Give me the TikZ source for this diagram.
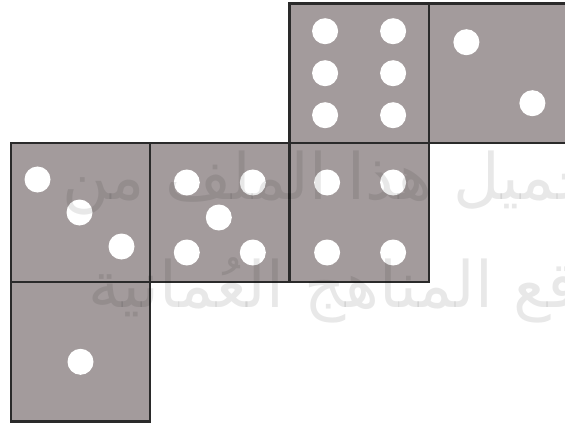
\documentclass[tikz,border=0pt]{standalone}
\usepackage{fontspec}
\usetikzlibrary{positioning, calc}
\newfontfamily\arabicfont[Script=Arabic]{DejaVu Sans}
\TeXXeTstate=1
\definecolor{dieface}{HTML}{A39B9C}
\definecolor{dieedge}{HTML}{2A2A2A}

\begin{document}
\begin{tikzpicture}[
    x=1pt, y=-1pt,
    face/.style={rectangle, draw=dieedge, fill=dieface, line width=2.4pt, minimum size=139.3pt, inner sep=0pt, outer sep=0pt},
    pip/.style={fill=white},
    watermark/.style={black, opacity=0.09, inner sep=0pt, font=\fontsize{64}{64}\arabicfont}
]
\useasboundingbox (0,0) rectangle (565,425);

% Faces of the net
\node (three) [face] at (80.5,212.5) {};
\node (five) [face, right=0pt of three] {};
\node (four) [face, right=0pt of five] {};
\node (six) [face, above=0pt of four] {};
\node (two) [face, right=0pt of six] {};
\node (one) [face, below=0pt of three] {};

% Pips
\foreach \dx/\dy in {-34/-42, 34/-42, -34/0, 34/0, -34/42, 34/42}
    \fill[pip] ($(six)+(\dx,\dy)$) circle (13);
\foreach \dx/\dy in {-32/-31, 34/30}
    \fill[pip] ($(two)+(\dx,\dy)$) circle (13);
\foreach \dx/\dy in {-43/-33, -1/0, 41/34}
    \fill[pip] ($(three)+(\dx,\dy)$) circle (13);
\foreach \dx/\dy in {-33/-30, 33/-30, -1/5, -33/40, 33/40}
    \fill[pip] ($(five)+(\dx,\dy)$) circle (13);
\foreach \dx/\dy in {-32/-30, 34/-30, -32/40, 34/40}
    \fill[pip] ($(four)+(\dx,\dy)$) circle (13);
\fill[pip] ($(one)+(0,10)$) circle (13);

% Watermark
\begin{scope}
\clip (0,0) rectangle (565,425);
\node (wmtop) [watermark, anchor=base west] at (62,200) {\beginR تحميل هذا الملف من\endR};
\node (wmbottom) [watermark, anchor=base west] at (88,307) {\beginR موقع المناهج العُمانية\endR};
\end{scope}

\end{tikzpicture}
\end{document}
